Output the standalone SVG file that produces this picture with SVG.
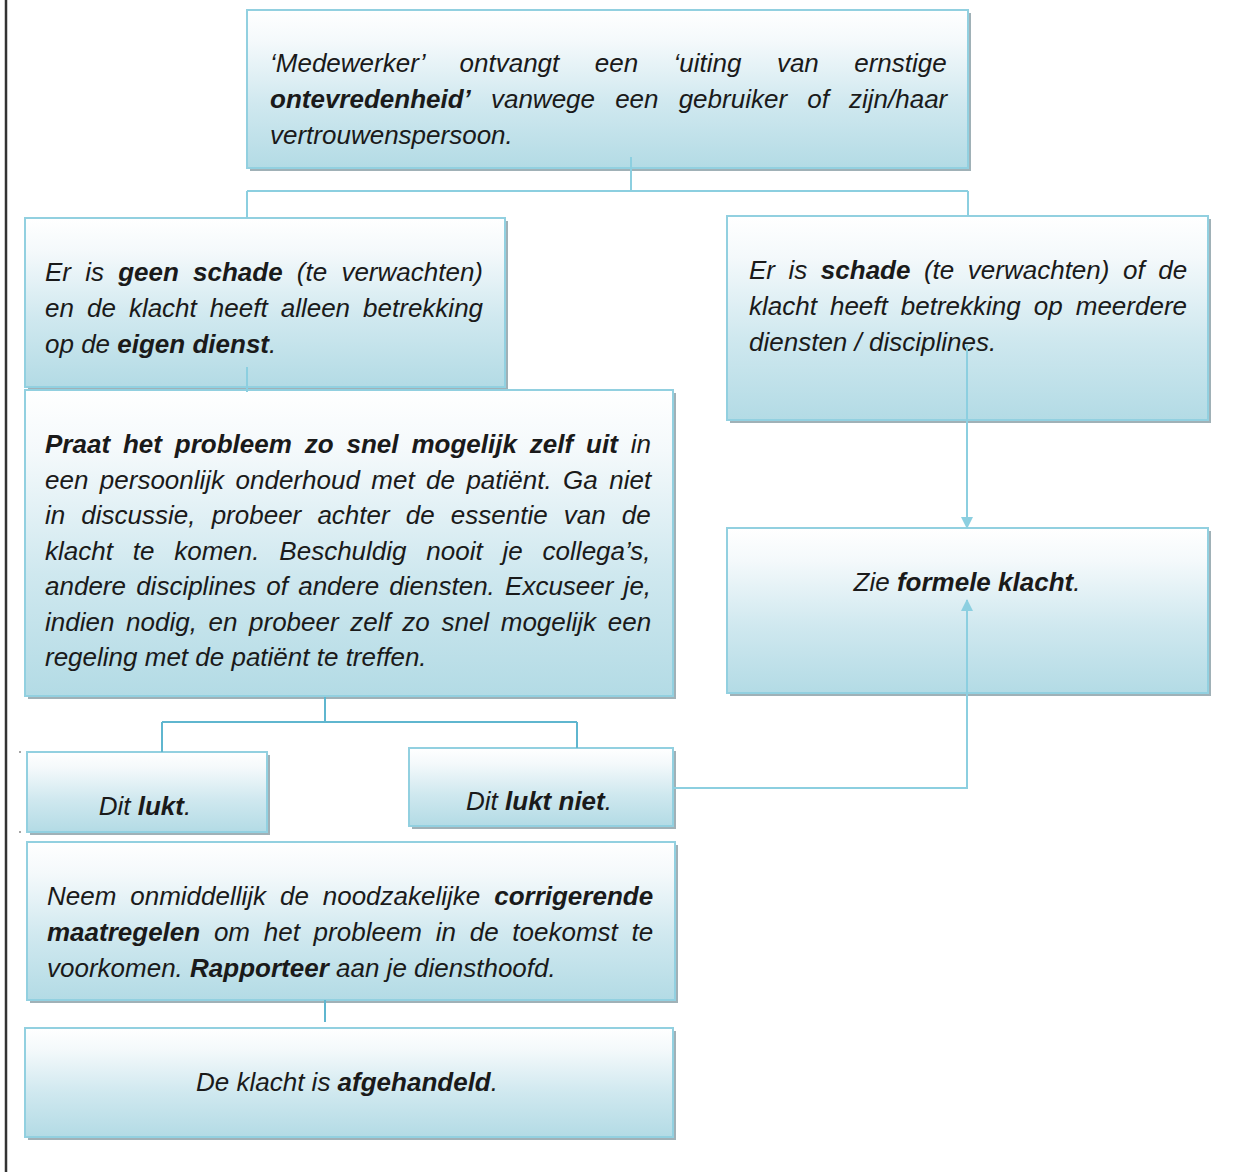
<svg xmlns="http://www.w3.org/2000/svg" width="1259" height="1172" viewBox="0 0 1259 1172">
<defs>
<linearGradient id="g" x1="0" y1="0" x2="0" y2="1">
<stop offset="0" stop-color="#ffffff"/>
<stop offset="0.2" stop-color="#f4f9fb"/>
<stop offset="0.6" stop-color="#cfe8ef"/>
<stop offset="1" stop-color="#b3dbe5"/>
</linearGradient>
<marker id="arr" markerWidth="12" markerHeight="12" viewBox="0 0 12 12" refX="11" refY="6" orient="auto" markerUnits="userSpaceOnUse">
<path d="M0,0 L12,6 L0,12 Z" fill="#8ccfe0"/>
</marker>
</defs>
<style>
.box{fill:url(#g);stroke:#92d0e0;stroke-width:2}
.sh{fill:#8fa3aa;opacity:0.85}
.t{font-family:"Liberation Sans",Arial,sans-serif;font-style:italic;font-size:26px;fill:#1a1a1a}
.b{font-weight:bold}
.c{text-anchor:middle}
.ln{fill:none;stroke:#5fb6cf;stroke-width:2}
.la{fill:none;stroke:#8ccfe0;stroke-width:2}
</style>
<rect width="1259" height="1172" fill="#ffffff"/>
<line x1="6" y1="0" x2="6" y2="1172" stroke="#333333" stroke-width="2.5"/>
<circle cx="20" cy="752" r="1" fill="#888"/>
<circle cx="20" cy="832" r="1" fill="#888"/>

<g id="n1">
<rect class="sh" x="250" y="13" width="721" height="158"/>
<rect class="box" x="247" y="10" width="721" height="158"/>
<text class="t" x="270" y="72" style="word-spacing:28.2px">‘Medewerker’ ontvangt een ‘uiting van ernstige</text>
<text class="t" x="270" y="108" style="word-spacing:12.9px"><tspan class="b">ontevredenheid’</tspan> vanwege een gebruiker of zijn/haar</text>
<text class="t" x="270" y="144">vertrouwenspersoon.</text>
</g>

<g id="n2">
<rect class="sh" x="28" y="221" width="480" height="169"/>
<rect class="box" x="25" y="218" width="480" height="169"/>
<text class="t" x="45" y="281" style="word-spacing:6.97px">Er is <tspan class="b">geen schade</tspan> (te verwachten)</text>
<text class="t" x="45" y="317" style="word-spacing:5.8px">en de klacht heeft alleen betrekking</text>
<text class="t" x="45" y="353">op de <tspan class="b">eigen dienst</tspan>.</text>
</g>

<g id="n3">
<rect class="sh" x="730" y="219" width="481" height="204"/>
<rect class="box" x="727" y="216" width="481" height="204"/>
<text class="t" x="749" y="279" style="word-spacing:6.3px">Er is <tspan class="b">schade</tspan> (te verwachten) of de</text>
<text class="t" x="749" y="315" style="word-spacing:5.8px">klacht heeft betrekking op meerdere</text>
<text class="t" x="749" y="351">diensten / disciplines.</text>
</g>

<g id="n4">
<rect class="sh" x="730" y="531" width="481" height="165"/>
<rect class="box" x="727" y="528" width="481" height="165"/>
<text class="t c" x="967" y="591">Zie <tspan class="b">formele klacht</tspan>.</text>
</g>

<g id="n5">
<rect class="sh" x="28" y="393" width="648" height="306"/>
<rect class="box" x="25" y="390" width="648" height="306"/>
<text class="t" x="45" y="453" style="word-spacing:5.67px"><tspan class="b">Praat het probleem zo snel mogelijk zelf uit</tspan> in</text>
<text class="t" x="45" y="488.5" style="word-spacing:4.2px">een persoonlijk onderhoud met de patiënt. Ga niet</text>
<text class="t" x="45" y="524" style="word-spacing:8.9px">in discussie, probeer achter de essentie van de</text>
<text class="t" x="45" y="559.5" style="word-spacing:12.6px">klacht te komen. Beschuldig nooit je collega’s,</text>
<text class="t" x="45" y="595" style="word-spacing:2.97px">andere disciplines of andere diensten. Excuseer je,</text>
<text class="t" x="45" y="630.5" style="word-spacing:4.4px">indien nodig, en probeer zelf zo snel mogelijk een</text>
<text class="t" x="45" y="666">regeling met de patiënt te treffen.</text>
</g>

<g id="n6">
<rect class="sh" x="30" y="755" width="240" height="80"/>
<rect class="box" x="27" y="752" width="240" height="80"/>
<text class="t c" x="145" y="815">Dit <tspan class="b">lukt</tspan>.</text>
</g>

<g id="n7">
<rect class="sh" x="412" y="751" width="264" height="78"/>
<rect class="box" x="409" y="748" width="264" height="78"/>
<text class="t c" x="539" y="810">Dit <tspan class="b">lukt niet</tspan>.</text>
</g>

<g id="n8">
<rect class="sh" x="30" y="845" width="648" height="158"/>
<rect class="box" x="27" y="842" width="648" height="158"/>
<text class="t" x="47" y="905" style="word-spacing:6.65px">Neem onmiddellijk de noodzakelijke <tspan class="b">corrigerende</tspan></text>
<text class="t" x="47" y="941" style="word-spacing:6.5px"><tspan class="b">maatregelen</tspan> om het probleem in de toekomst te</text>
<text class="t" x="47" y="977">voorkomen. <tspan class="b">Rapporteer</tspan> aan je diensthoofd.</text>
</g>

<g id="n9">
<rect class="sh" x="28" y="1031" width="648" height="109"/>
<rect class="box" x="25" y="1028" width="648" height="109"/>
<text class="t c" x="347" y="1091">De klacht is <tspan class="b">afgehandeld</tspan>.</text>
</g>

<g id="connectors">
<path class="la" d="M631,157 V191 M247,191 H968 M247,191 V218 M968,191 V216"/>
<path class="la" d="M247,367 V392"/>
<path class="la" d="M967,345 V528" marker-end="url(#arr)"/>
<path class="ln" d="M325,697 V722 M162,722 H577 M162,722 V752 M577,722 V748"/>
<path class="la" d="M673,788 H967 V600" marker-end="url(#arr)"/>
<path class="ln" d="M325,1000 V1022"/>
</g>
</svg>
